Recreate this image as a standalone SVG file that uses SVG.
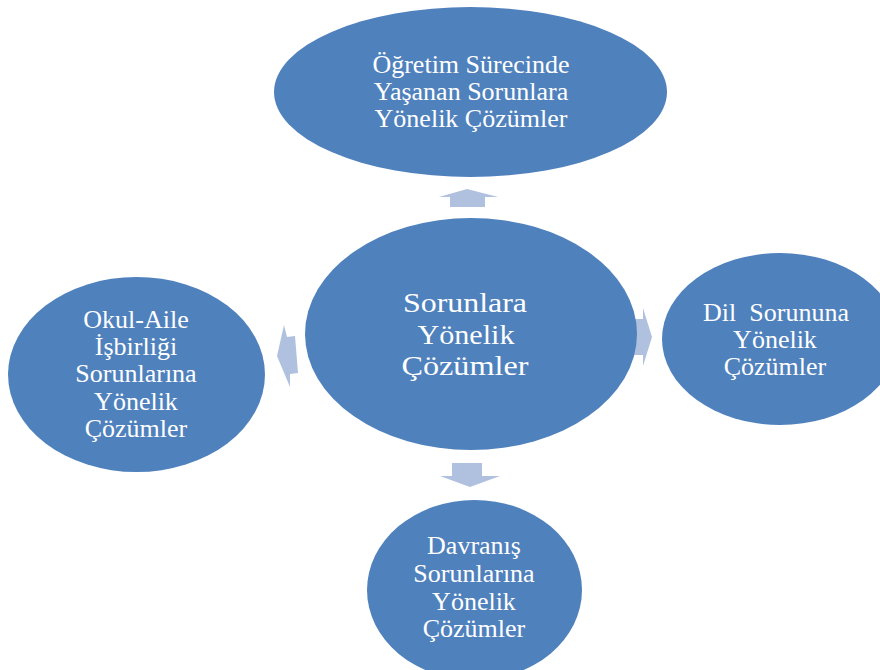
<svg xmlns="http://www.w3.org/2000/svg" width="880" height="670" viewBox="0 0 880 670">
<style>
.node{fill:#4F81BD}
.arr{fill:#AFC1DE}
text{font-family:"Liberation Serif","Times New Roman",serif;fill:#FFFFFF;text-anchor:middle}
.s{font-size:26px}
.c{font-size:27.5px}
</style>
<rect width="880" height="670" fill="#FFFFFF"/>
<g id="connectors">
<polygon class="arr" points="467,189 498,197 485,197 485,207 450,207 450,197 439,197"/>
<polygon class="arr" points="652,337 643,308 643,319 634,319 634,355 643,355 643,366"/>
<polygon class="arr" points="277,356 284,325 287,337 295,336 298,373 290,374 290,387"/>
<polygon class="arr" points="470,487 500,476 482,476 482,463 452,463 452,476 440,476"/>
</g>
<g id="node-top">
<ellipse class="node" cx="470.5" cy="92" rx="196.5" ry="85"/>
<text class="s" x="471" y="73">Öğretim Sürecinde</text>
<text class="s" x="471" y="100">Yaşanan Sorunlara</text>
<text class="s" x="471" y="127">Yönelik Çözümler</text>
</g>
<g id="node-center">
<ellipse class="node" cx="471" cy="334" rx="166" ry="116"/>
<text class="c" x="465" y="312" textLength="124" lengthAdjust="spacingAndGlyphs">Sorunlara</text>
<text class="c" x="466" y="344" textLength="97" lengthAdjust="spacingAndGlyphs">Yönelik</text>
<text class="c" x="465" y="375" textLength="127" lengthAdjust="spacingAndGlyphs">Çözümler</text>
</g>
<g id="node-right">
<ellipse class="node" cx="780" cy="339" rx="118" ry="86"/>
<text class="s" x="776" y="321" xml:space="preserve">Dil  Sorununa</text>
<text class="s" x="775" y="348">Yönelik</text>
<text class="s" x="775" y="375">Çözümler</text>
</g>
<g id="node-left">
<ellipse class="node" cx="136.5" cy="374.5" rx="128.5" ry="97.5"/>
<text class="s" x="136" y="328">Okul-Aile</text>
<text class="s" x="136" y="355">İşbirliği</text>
<text class="s" x="136" y="382">Sorunlarına</text>
<text class="s" x="136" y="410">Yönelik</text>
<text class="s" x="136" y="437">Çözümler</text>
</g>
<g id="node-bottom">
<ellipse class="node" cx="474.5" cy="590" rx="107.5" ry="90"/>
<text class="s" x="474" y="554">Davranış</text>
<text class="s" x="474" y="582">Sorunlarına</text>
<text class="s" x="474" y="610">Yönelik</text>
<text class="s" x="474" y="637">Çözümler</text>
</g>
</svg>
